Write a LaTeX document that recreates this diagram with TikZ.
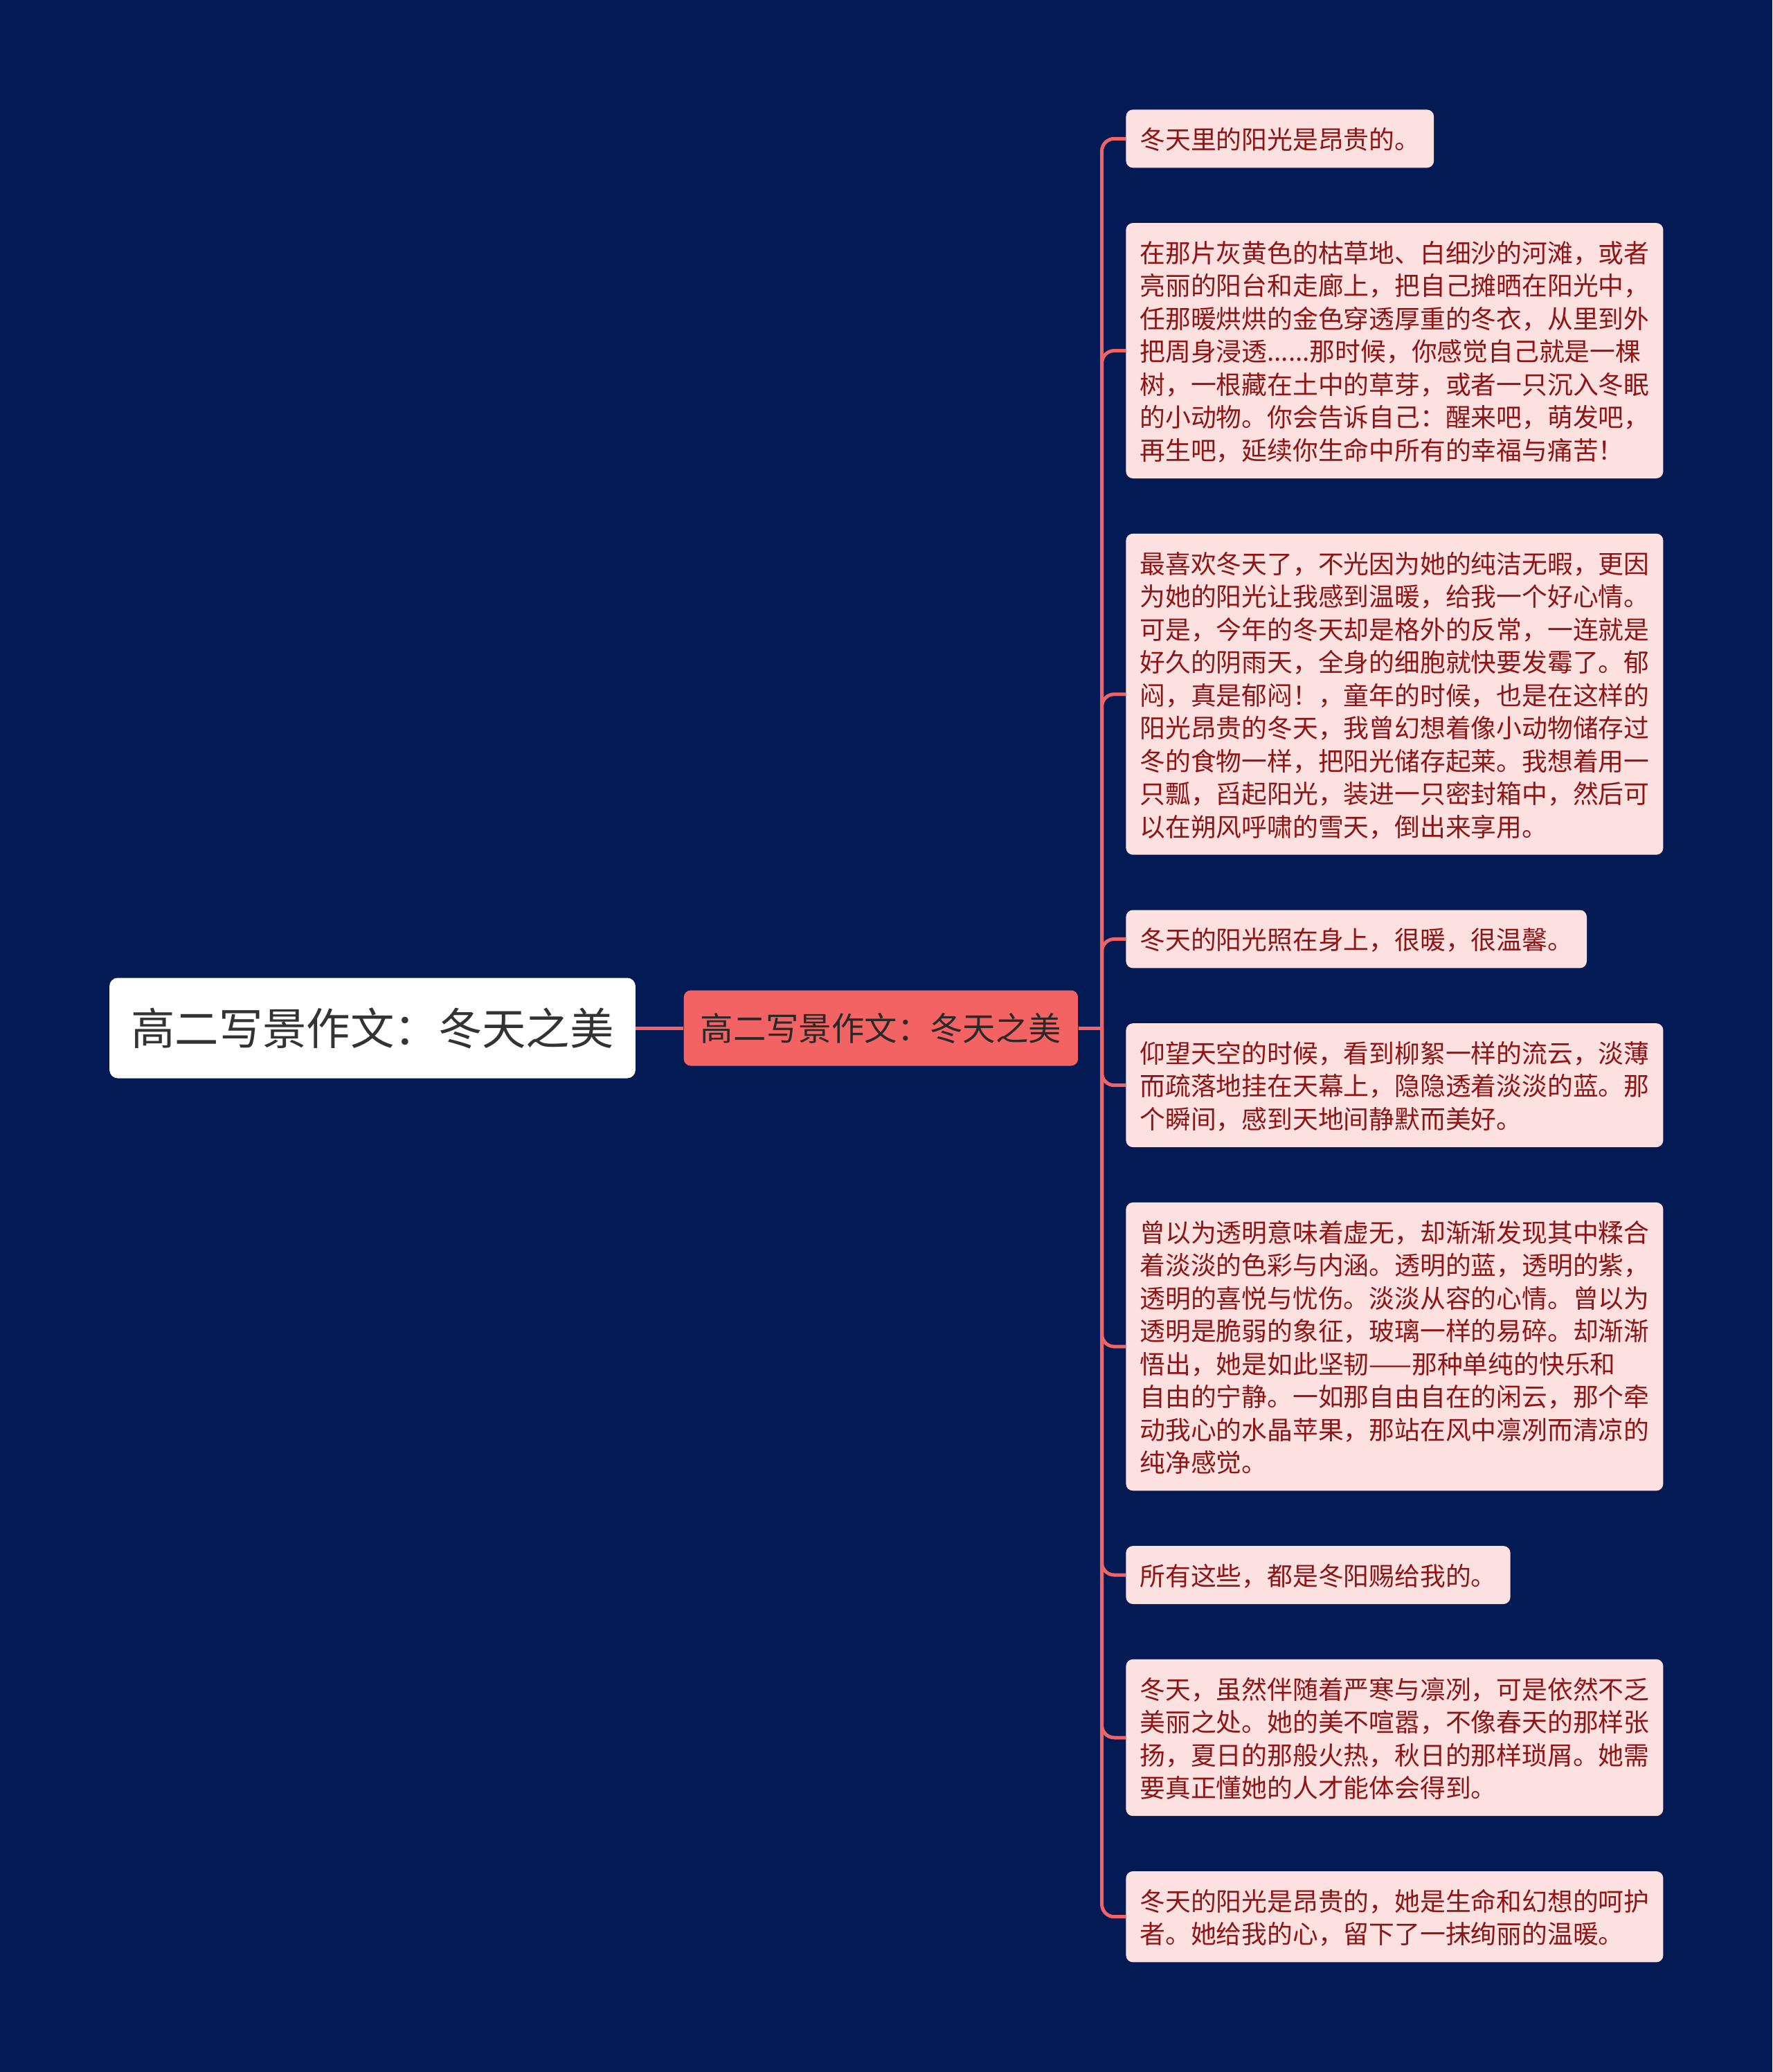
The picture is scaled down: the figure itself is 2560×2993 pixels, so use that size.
\documentclass[tikz,border=0pt]{standalone}
\usepackage{fontspec}
\newfontfamily\cjk{Noto Sans CJK SC}
\usepackage{xcolor}
\usepackage{tikz}
\usetikzlibrary{positioning}

\definecolor{fondo}{HTML}{031A54}
\definecolor{coral}{HTML}{F36363}
\definecolor{rosa}{HTML}{FDE1E1}
\definecolor{granate}{HTML}{8E1515}
\definecolor{gris}{HTML}{333333}

\newcommand{\puntal}{\vrule height 19.5pt depth 4.25pt width 0pt}

\begin{document}
\begin{tikzpicture}[
    x=0.5pt, y=-0.5pt,
    node distance=39.5pt and 34.5pt,
    raiz/.style={rectangle, rounded corners=6pt, fill=white, text=gris,
                 font=\cjk\fontsize{31.7pt}{38pt}\selectfont,
                 inner xsep=15.6pt, inner ysep=0pt, minimum height=72.5pt},
    tema/.style={rectangle, rounded corners=5pt, fill=coral, text=gris!80!black,
                 font=\cjk\fontsize{23.7pt}{28pt}\selectfont,
                 inner xsep=12pt, inner ysep=0pt, minimum height=54.5pt},
    hoja/.style={rectangle, rounded corners=5pt, fill=rosa, text=granate,
                 align=left, font=\cjk\fontsize{18.4pt}{23.75pt}\selectfont,
                 inner xsep=10pt, inner ysep=9.1pt,
                 execute at end node=\puntal},
    rama/.style={draw=coral, line width=2.5pt, rounded corners=9pt}
]
    \fill[fondo] (0,0) rectangle (2560,2993);

    \node[raiz] (raiz) at (538,1485) {高二写景作文：冬天之美};
    \node[tema, right=of raiz] (tema) {高二写景作文：冬天之美};
    \coordinate[right=17pt of tema] (tronco);

    \node[hoja, anchor=north west] (h1) at (1626,158) {\puntal 冬天里的阳光是昂贵的。};
    \node[hoja, below=of h1.south west, anchor=north west] (h2)
        {\puntal 在那片灰黄色的枯草地、白细沙的河滩，或者\\
         亮丽的阳台和走廊上，把自己摊晒在阳光中，\\
         任那暖烘烘的金色穿透厚重的冬衣，从里到外\\
         把周身浸透......那时候，你感觉自己就是一棵\\
         树，一根藏在土中的草芽，或者一只沉入冬眠\\
         的小动物。你会告诉自己：醒来吧，萌发吧，\\
         再生吧，延续你生命中所有的幸福与痛苦！};
    \node[hoja, below=of h2.south west, anchor=north west] (h3)
        {\puntal 最喜欢冬天了，不光因为她的纯洁无暇，更因\\
         为她的阳光让我感到温暖，给我一个好心情。\\
         可是，今年的冬天却是格外的反常，一连就是\\
         好久的阴雨天，全身的细胞就快要发霉了。郁\\
         闷，真是郁闷！，童年的时候，也是在这样的\\
         阳光昂贵的冬天，我曾幻想着像小动物储存过\\
         冬的食物一样，把阳光储存起莱。我想着用一\\
         只瓢，舀起阳光，装进一只密封箱中，然后可\\
         以在朔风呼啸的雪天，倒出来享用。};
    \node[hoja, below=of h3.south west, anchor=north west] (h4)
        {\puntal 冬天的阳光照在身上，很暖，很温馨。};
    \node[hoja, below=of h4.south west, anchor=north west] (h5)
        {\puntal 仰望天空的时候，看到柳絮一样的流云，淡薄\\
         而疏落地挂在天幕上，隐隐透着淡淡的蓝。那\\
         个瞬间，感到天地间静默而美好。};
    \node[hoja, below=of h5.south west, anchor=north west] (h6)
        {\puntal 曾以为透明意味着虚无，却渐渐发现其中糅合\\
         着淡淡的色彩与内涵。透明的蓝，透明的紫，\\
         透明的喜悦与忧伤。淡淡从容的心情。曾以为\\
         透明是脆弱的象征，玻璃一样的易碎。却渐渐\\
         悟出，她是如此坚韧——那种单纯的快乐和\\
         自由的宁静。一如那自由自在的闲云，那个牵\\
         动我心的水晶苹果，那站在风中凛冽而清凉的\\
         纯净感觉。};
    \node[hoja, below=of h6.south west, anchor=north west] (h7)
        {\puntal 所有这些，都是冬阳赐给我的。};
    \node[hoja, below=of h7.south west, anchor=north west] (h8)
        {\puntal 冬天，虽然伴随着严寒与凛冽，可是依然不乏\\
         美丽之处。她的美不喧嚣，不像春天的那样张\\
         扬，夏日的那般火热，秋日的那样琐屑。她需\\
         要真正懂她的人才能体会得到。};
    \node[hoja, below=of h8.south west, anchor=north west] (h9)
        {\puntal 冬天的阳光是昂贵的，她是生命和幻想的呵护\\
         者。她给我的心，留下了一抹绚丽的温暖。};

    \draw[rama] (raiz) -- (tema);
    \draw[rama] (tema) -- (tronco);
    \draw[rama] (tronco) |- (h1.west);
    \draw[rama] (tronco) |- (h2.west);
    \draw[rama] (tronco) |- (h3.west);
    \draw[rama] (tronco) |- (h4.west);
    \draw[rama] (tronco) |- (h5.west);
    \draw[rama] (tronco) |- (h6.west);
    \draw[rama] (tronco) |- (h7.west);
    \draw[rama] (tronco) |- (h8.west);
    \draw[rama] (tronco) |- (h9.west);
\end{tikzpicture}
\end{document}
